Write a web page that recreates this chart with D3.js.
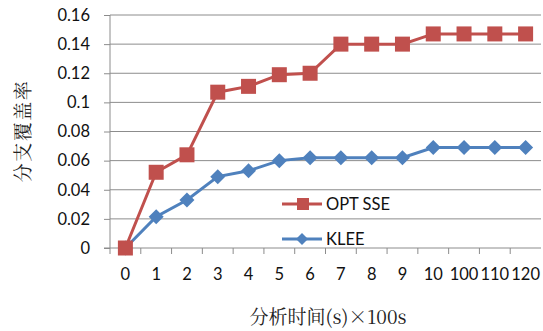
<!DOCTYPE html>
<html><head><meta charset="utf-8">
<script src="https://cdn.jsdelivr.net/npm/d3@7"></script>
<style>body{margin:0;background:#fff}svg{display:block}</style>
</head><body>
<script>
const categories = ["0","1","2","3","4","5","6","7","8","9","10","100","110","120"];
const optSSE = [0, 0.052, 0.064, 0.107, 0.111, 0.119, 0.120, 0.140, 0.140, 0.140, 0.147, 0.147, 0.147, 0.147];
const klee   = [0, 0.0215, 0.033, 0.049, 0.053, 0.060, 0.062, 0.062, 0.062, 0.062, 0.069, 0.069, 0.069, 0.069];
const yTicks = [0, 0.02, 0.04, 0.06, 0.08, 0.1, 0.12, 0.14, 0.16];
const yTickLabels = ["0","0.02","0.04","0.06","0.08","0.1","0.12","0.14","0.16"];
const seriesNames = ["OPT SSE","KLEE"];

const W=543,H=331;
const m={l:110,r:2,t:15,b:83};
const svg=d3.select("body").append("svg").attr("width",W).attr("height",H);
const x=d3.scaleBand().domain(categories).range([m.l,W-m.r]);
const y=d3.scaleLinear().domain([0,0.16]).range([H-m.b,m.t]);
const font="Lato, 'Liberation Sans', sans-serif";

// gridlines
svg.append("g").selectAll("line").data(yTicks.slice(1)).join("line")
  .attr("x1",m.l).attr("x2",W-m.r).attr("y1",d=>y(d)).attr("y2",d=>y(d))
  .attr("stroke","#8c8c8c").attr("stroke-width",1);

// y axis
const ya=svg.append("g").attr("transform",`translate(${m.l},0)`)
  .call(d3.axisLeft(y).tickValues(yTicks).tickFormat((d,i)=>yTickLabels[i]).tickSize(6).tickPadding(14));
ya.select(".domain").attr("stroke","#8c8c8c").attr("d",`M0,${y(0)}V${m.t}`);
ya.selectAll(".tick line").attr("stroke","#8c8c8c");
ya.selectAll("text").attr("font-family",font).attr("font-size",16.5).attr("fill","#111");

// x axis
const xa=svg.append("g").attr("transform",`translate(0,${y(0)})`)
  .call(d3.axisBottom(x).tickSize(0).tickPadding(20));
xa.select(".domain").attr("stroke","#8c8c8c").attr("d",`M${m.l-6},0H${W-m.r}`);
xa.selectAll("text").attr("font-family",font).attr("font-size",16.5).attr("fill","#111");
svg.append("g").selectAll("line").data(categories).join("line")
  .attr("x1",d=>x(d)).attr("x2",d=>x(d)).attr("y1",y(0)).attr("y2",y(0)+6)
  .attr("stroke","#8c8c8c");

const cx=d=>x(d)+x.bandwidth()/2;
const line=d3.line().x((d,i)=>cx(categories[i])).y(d=>y(d));
const red="#C0504D", blue="#4F81BD";

// KLEE
svg.append("path").datum(klee).attr("d",line).attr("fill","none").attr("stroke",blue).attr("stroke-width",3);
const diamond=s=>`M0,${-s}L${s},0L0,${s}L${-s},0Z`;
svg.append("g").selectAll("path").data(klee).join("path")
  .attr("transform",(d,i)=>`translate(${cx(categories[i])},${y(d)})`)
  .attr("d",diamond(7.5)).attr("fill",blue);

// OPT SSE
svg.append("path").datum(optSSE).attr("d",line).attr("fill","none").attr("stroke",red).attr("stroke-width",3);
svg.append("g").selectAll("rect").data(optSSE).join("rect")
  .attr("x",(d,i)=>cx(categories[i])-7.5).attr("y",d=>y(d)-7.5)
  .attr("width",15).attr("height",15).attr("fill",red);

// legend
const lg=svg.append("g");
const ly=[204,239];
[red,blue].forEach((c,i)=>{
  lg.append("line").attr("x1",282).attr("x2",322).attr("y1",ly[i]).attr("y2",ly[i]).attr("stroke",c).attr("stroke-width",3);
  if(i===0) lg.append("rect").attr("x",297).attr("y",ly[i]-6).attr("width",12).attr("height",12).attr("fill",c);
  else lg.append("path").attr("transform",`translate(302,${ly[i]})`).attr("d",diamond(6)).attr("fill",c);
  lg.append("text").attr("x",326).attr("y",ly[i]).attr("dy","0.35em").text(seriesNames[i])
    .attr("font-family",font).attr("font-size",16.5).attr("fill","#111");
});

// axis titles
const cjk="'Noto Serif CJK SC','Noto Sans CJK SC', serif";
svg.append("text").attr("transform",`translate(23,131) rotate(-90)`).attr("text-anchor","middle")
  .attr("dy","0.35em").attr("letter-spacing",1.5).text("分支覆盖率").attr("font-family",cjk).attr("font-size",19).attr("fill","#222");
svg.append("text").attr("x",328).attr("y",317).attr("text-anchor","middle").attr("dy","0.35em")
  .text("分析时间(s)×100s").attr("font-family",cjk).attr("font-size",19).attr("fill","#222");
</script>
</body></html>
